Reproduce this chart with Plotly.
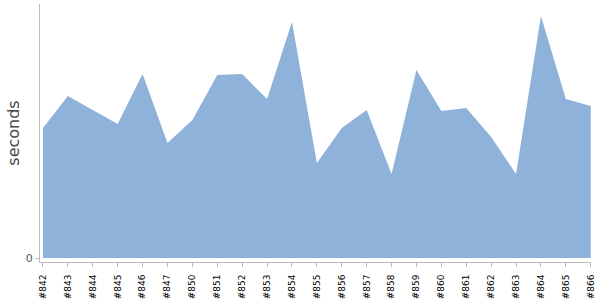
import plotly.graph_objects as go

builds = ["#842", "#843", "#844", "#845", "#846", "#847", "#850", "#851", "#852",
          "#853", "#854", "#855", "#856", "#857", "#858", "#859", "#860", "#861",
          "#862", "#863", "#864", "#865", "#866"]
seconds = [13.0, 16.2, 14.8, 13.4, 18.4, 11.5, 13.8, 18.3, 18.4, 15.9, 23.6, 9.5,
           13.0, 14.8, 8.4, 18.8, 14.7, 15.0, 12.1, 8.4, 24.2, 15.9, 15.2]

fig = go.Figure()
fig.add_trace(go.Scatter(
    x=list(range(len(builds))), y=seconds, mode="lines",
    fill="tozeroy", fillcolor="rgb(143,178,218)",
    line=dict(width=0, color="rgb(143,178,218)"),
    hoverinfo="skip", showlegend=False,
))
fig.update_layout(
    width=600, height=300,
    margin=dict(l=40, r=9, t=4, b=38),
    paper_bgcolor="white", plot_bgcolor="white",
    font=dict(family="DejaVu Sans"),
    xaxis=dict(
        range=[-0.12, len(builds) - 1 + 0.01],
        tickmode="array", tickvals=list(range(len(builds))), ticktext=builds,
        tickangle=-90, tickfont=dict(size=9, color="black"),
        ticks="outside", ticklen=4, tickcolor="#bbbbbb",
        ticklabelstandoff=4, automargin=False,
        showline=True, linecolor="#bbbbbb", linewidth=1,
        showgrid=False, zeroline=False,
    ),
    yaxis=dict(
        range=[-0.4, 25.4],
        tickmode="array", tickvals=[0], ticktext=["0"],
        tickfont=dict(size=11, color="#555555"),
        ticks="outside", ticklen=4, tickcolor="#bbbbbb",
        showline=True, linecolor="#bbbbbb", linewidth=1,
        showgrid=False, zeroline=False, automargin=False,
        title=dict(text="seconds", font=dict(size=16, color="#4a4a4a"), standoff=2),
    ),
)
fig.write_html("out.html")
